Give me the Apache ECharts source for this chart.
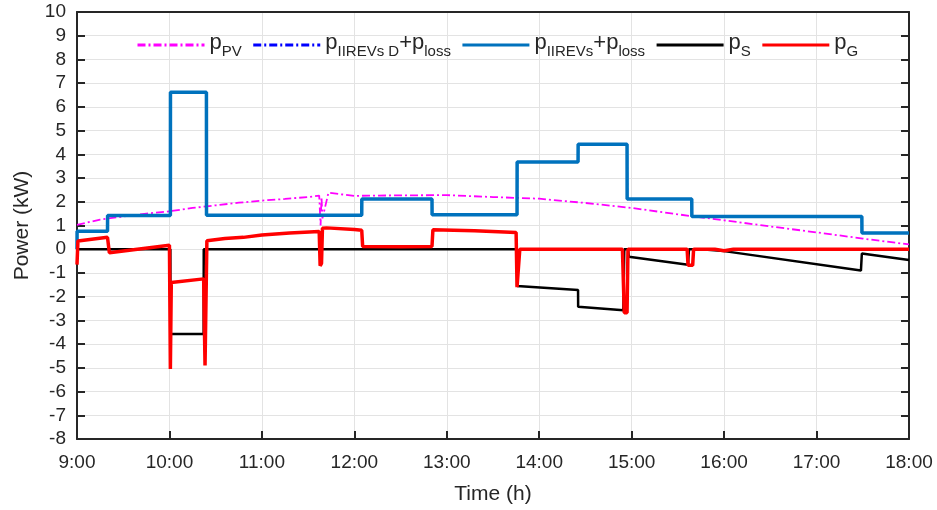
<!DOCTYPE html>
<html><head><meta charset="utf-8">
<script src="https://cdn.jsdelivr.net/npm/echarts@6/dist/echarts.min.js"></script>
<style>html,body{margin:0;padding:0;background:#fff}#c{width:937px;height:510px}</style>
</head><body><div id="c"></div>
<script>
// ---- data (time in hours, power in kW) ----
const xTicks = [9, 10, 11, 12, 13, 14, 15, 16, 17, 18];
const yTicks = [-8, -7, -6, -5, -4, -3, -2, -1, 0, 1, 2, 3, 4, 5, 6, 7, 8, 9, 10];
const seriesNames = ['pPV', 'pIIREVsD', 'pIIREVs', 'pS', 'pG'];

const pvT = [9.0, 9.25, 9.5, 9.75, 10.0, 10.25, 10.5, 10.75, 11.0, 11.25, 11.5, 11.62, 11.635, 11.645, 11.655, 11.72, 12.0, 12.5, 13.0, 13.5, 14.0, 14.5, 15.0, 15.5, 16.0, 16.5, 17.0, 17.5, 18.0];
const pvV = [1.03, 1.25, 1.38, 1.5, 1.6, 1.74, 1.85, 1.96, 2.05, 2.12, 2.2, 2.26, 1.0, 2.2, 1.3, 2.38, 2.25, 2.27, 2.28, 2.2, 2.13, 1.95, 1.74, 1.47, 1.22, 0.96, 0.71, 0.45, 0.2];

const evT = [9.0, 9.001, 9.33, 9.331, 10.01, 10.011, 10.40, 10.401, 12.08, 12.081, 12.84, 12.841, 13.76, 13.761, 14.42, 14.421, 14.95, 14.951, 15.65, 15.651, 17.49, 17.491, 18.0];
const evV = [0.0, 0.76, 0.76, 1.42, 1.42, 6.62, 6.62, 1.43, 1.43, 2.12, 2.12, 1.45, 1.45, 3.68, 3.68, 4.42, 4.42, 2.12, 2.12, 1.38, 1.38, 0.68, 0.68];

const sT = [9.0, 10.01, 10.011, 10.37, 10.371, 13.76, 13.761, 14.42, 14.421, 14.91, 14.92, 14.96, 14.97, 15.61, 15.62, 15.75, 16.0, 17.48, 17.49, 18.0];
const sV = [0.0, 0.0, -3.57, -3.57, 0.0, 0.0, -1.55, -1.72, -2.42, -2.57, 0.0, 0.0, -0.32, -0.65, 0.0, 0.0, -0.08, -0.9, -0.18, -0.45];

const gT = [9.0, 9.01, 9.33, 9.35, 10.0, 10.01, 10.02, 10.37, 10.385, 10.405, 10.6, 10.8, 11.0, 11.3, 11.62, 11.63, 11.645, 11.655, 11.7, 12.0, 12.08, 12.09, 12.5, 12.84, 12.85, 13.3, 13.75, 13.76, 13.79, 14.90, 14.92, 14.95, 14.96, 15.60, 15.61, 15.66, 15.67, 15.9, 16.0, 16.1, 18.0];
const gV = [-0.65, 0.35, 0.5, -0.15, 0.17, -5.05, -1.4, -1.25, -4.9, 0.36, 0.45, 0.5, 0.6, 0.68, 0.75, -0.7, -0.6, 0.88, 0.9, 0.83, 0.8, 0.12, 0.1, 0.12, 0.82, 0.78, 0.7, -1.6, 0.0, 0.0, -2.68, -2.68, 0.0, 0.0, -0.68, -0.68, 0.0, 0.0, -0.06, 0.0, 0.0];

// ---- build ----
const zip = (t, v) => t.map((x, i) => [x, v[i]]);
const FONT = '"Liberation Sans", Arial, sans-serif';
const legendText = {
  pPV: '{m|p}{s|PV}',
  pIIREVsD: '{m|p}{s|IIREVs D}{m|+p}{s|loss}',
  pIIREVs: '{m|p}{s|IIREVs}{m|+p}{s|loss}',
  pS: '{m|p}{s|S}',
  pG: '{m|p}{s|G}'
};
const axisColor = '#262626';
const gridColor = '#e3e3e3';

const chart = echarts.init(document.getElementById('c'), null, {renderer: 'canvas'});
chart.setOption({
  animation: false,
  backgroundColor: '#fff',
  grid: {left: 77, top: 12, right: 28, bottom: 67},
  legend: {
    data: seriesNames,
    top: 27, left: 131,
    itemWidth: 67, itemHeight: 14, itemGap: 10,
    itemStyle: {opacity: 0},
    lineStyle: {width: 3},
    formatter: n => legendText[n],
    textStyle: {
      fontFamily: FONT, color: axisColor,
      rich: {
        m: {fontSize: 22, fontFamily: FONT, color: axisColor, lineHeight: 26, verticalAlign: 'top'},
        s: {fontSize: 15, fontFamily: FONT, color: axisColor, lineHeight: 15, padding: [12, 0, 0, 0], verticalAlign: 'top'}
      }
    }
  },
  xAxis: [{
    type: 'value', min: 9, max: 18, interval: 1,
    name: 'Time (h)', nameLocation: 'middle', nameGap: 45,
    nameTextStyle: {fontFamily: FONT, fontSize: 21, color: axisColor},
    axisLine: {onZero: false, lineStyle: {color: axisColor, width: 2}},
    axisTick: {inside: true, length: 8, lineStyle: {color: axisColor, width: 2}},
    axisLabel: {fontFamily: FONT, fontSize: 19, color: axisColor, margin: 14, formatter: v => v + ':00'},
    splitLine: {show: true, lineStyle: {color: gridColor, width: 1}}
  }, {
    type: 'value', min: 9, max: 18, interval: 1, position: 'top',
    axisLine: {onZero: false, lineStyle: {color: axisColor, width: 2}},
    axisTick: {show: false}, axisLabel: {show: false}, splitLine: {show: false}
  }],
  yAxis: [{
    type: 'value', min: -8, max: 10, interval: 1,
    name: 'Power (kW)', nameLocation: 'middle', nameGap: 44, nameRotate: 90,
    nameTextStyle: {fontFamily: FONT, fontSize: 21, color: axisColor},
    axisLine: {onZero: false, lineStyle: {color: axisColor, width: 2}},
    axisTick: {inside: true, length: 8, lineStyle: {color: axisColor, width: 2}},
    axisLabel: {fontFamily: FONT, fontSize: 19, color: axisColor, margin: 11},
    splitLine: {show: true, lineStyle: {color: gridColor, width: 1}}
  }, {
    type: 'value', min: -8, max: 10, interval: 1, position: 'right',
    axisLine: {onZero: false, lineStyle: {color: axisColor, width: 2}},
    axisTick: {inside: true, length: 8, lineStyle: {color: axisColor, width: 2}},
    axisLabel: {show: false}, splitLine: {show: false}
  }],
  series: [
    {name: 'pPV', type: 'line', data: zip(pvT, pvV), showSymbol: false, symbol: 'none', z: 2,
     lineStyle: {color: '#ff00ff', width: 1.8, type: [8, 3, 2, 3]}, itemStyle: {color: '#ff00ff'}},
    {name: 'pIIREVsD', type: 'line', data: zip(evT, evV), showSymbol: false, symbol: 'none', z: 3,
     lineStyle: {color: '#0000ff', width: 2, type: [8, 3, 2, 3]}, itemStyle: {color: '#0000ff'}},
    {name: 'pIIREVs', type: 'line', data: zip(evT, evV), showSymbol: false, symbol: 'none', z: 4,
     lineStyle: {color: '#0072bd', width: 3.5}, itemStyle: {color: '#0072bd'}},
    {name: 'pS', type: 'line', data: zip(sT, sV), showSymbol: false, symbol: 'none', z: 5,
     lineStyle: {color: '#000000', width: 2.5}, itemStyle: {color: '#000000'}},
    {name: 'pG', type: 'line', data: zip(gT, gV), showSymbol: false, symbol: 'none', z: 6,
     lineStyle: {color: '#ff0000', width: 3.5}, itemStyle: {color: '#ff0000'}}
  ]
});
</script></body></html>
